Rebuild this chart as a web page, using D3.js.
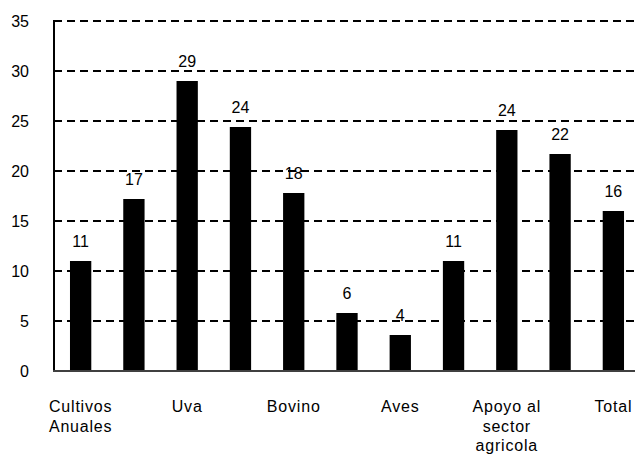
<!DOCTYPE html>
<html>
<head>
<meta charset="utf-8">
<script src="https://cdn.jsdelivr.net/npm/d3@7"></script>
<style>
  body { margin: 0; background: #fff; }
  text { font-family: Arial, "Liberation Sans", sans-serif; fill: #000; }
</style>
</head>
<body>
<svg id="chart" width="635" height="456"></svg>
<script>
// DATA
const categories = ["Cultivos\nAnuales", "", "Uva", "", "Bovino", "", "Aves", "", "Apoyo al\nsector\nagricola", "", "Total"];
const values = [11.0, 17.2, 29.0, 24.4, 17.8, 5.8, 3.6, 11.0, 24.1, 21.7, 16.0];
const yTicks = [0, 5, 10, 15, 20, 25, 30, 35];

const margin = { top: 21, left: 54, bottom: 85 };
const width = 635, height = 456;

const svg = d3.select('#chart');

// SCALES
const x = d3.scaleBand()
    .domain(d3.range(values.length))
    .range([margin.left, 640])
    .paddingInner(0.6)
    .paddingOuter(0.3);

const y = d3.scaleLinear()
    .domain([0, 35])
    .range([height - margin.bottom, margin.top]);

// dashed gridlines
svg.append('g')
    .selectAll('line')
    .data(yTicks.filter(d => d > 0))
    .enter()
    .append('line')
    .attr('x1', margin.left)
    .attr('x2', width)
    .attr('y1', d => y(d))
    .attr('y2', d => y(d))
    .attr('stroke', '#000')
    .attr('stroke-width', 2)
    .attr('stroke-dasharray', '8,5');

// y axis labels
const yAxis = svg.append('g')
    .attr('transform', `translate(${margin.left},0)`)
    .call(d3.axisLeft(y).tickValues(yTicks).tickSize(0).tickPadding(25));
yAxis.select('.domain').remove();
yAxis.selectAll('text')
    .style('font-size', '16px')
    .style('font-family', 'Arial, "Liberation Sans", sans-serif');

// bars
svg.append('g')
    .selectAll('rect')
    .data(values)
    .enter()
    .append('rect')
    .attr('x', (d, i) => x(i))
    .attr('y', d => y(d))
    .attr('width', x.bandwidth())
    .attr('height', d => y(0) - y(d))
    .attr('fill', '#000');

// value labels
svg.append('g')
    .selectAll('text')
    .data(values)
    .enter()
    .append('text')
    .attr('x', (d, i) => x(i) + x.bandwidth() / 2)
    .attr('y', d => y(d) - 14)
    .attr('text-anchor', 'middle')
    .style('font-size', '16px')
    .text(d => d3.format('.0f')(d));

// axis lines
svg.append('line')
    .attr('x1', margin.left).attr('x2', margin.left)
    .attr('y1', y(35) - 1).attr('y2', y(0))
    .attr('stroke', '#000').attr('stroke-width', 2);
svg.append('line')
    .attr('x1', margin.left - 1).attr('x2', width)
    .attr('y1', y(0)).attr('y2', y(0))
    .attr('stroke', '#404040').attr('stroke-width', 2);

// category labels
const catLabels = svg.append('g')
    .selectAll('text')
    .data(categories)
    .enter()
    .append('text')
    .attr('text-anchor', 'middle')
    .attr('x', (d, i) => x(i) + x.bandwidth() / 2)
    .attr('y', 412)
    .style('font-size', '16px')
    .style('letter-spacing', '0.8px');

catLabels.selectAll('tspan')
    .data(d => d ? d.split('\n') : [])
    .enter()
    .append('tspan')
    .attr('x', function() { return d3.select(this.parentNode).attr('x'); })
    .attr('dy', (d, i) => i === 0 ? 0 : 19.5)
    .text(d => d);
</script>
</body>
</html>
